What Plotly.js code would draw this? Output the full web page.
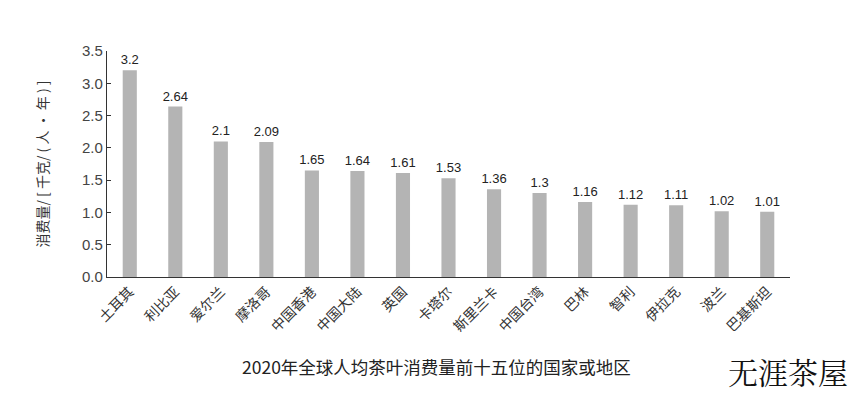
<!DOCTYPE html>
<html><head><meta charset="utf-8">
<script src="https://cdn.plot.ly/plotly-3.0.1.min.js"></script>
<style>body{margin:0;background:#fff}#c{width:858px;height:393px}</style>
</head><body><div id="c"></div>
<script>
const categories = ["土耳其","利比亚","爱尔兰","摩洛哥","中国香港","中国大陆","英国","卡塔尔","斯里兰卡","中国台湾","巴林","智利","伊拉克","波兰","巴基斯坦"];
const values = [3.2, 2.64, 2.1, 2.09, 1.65, 1.64, 1.61, 1.53, 1.36, 1.3, 1.16, 1.12, 1.11, 1.02, 1.01];
const valueLabels = ["3.2","2.64","2.1","2.09","1.65","1.64","1.61","1.53","1.36","1.3","1.16","1.12","1.11","1.02","1.01"];
const yTicks = [0,0.5,1,1.5,2,2.5,3,3.5];
const yTickText = ["0.0","0.5","1.0","1.5","2.0","2.5","3.0","3.5"];

const font = "Noto Sans CJK SC, sans-serif";
Plotly.newPlot("c", [{
  type: "bar", x: categories, y: values, text: valueLabels,
  textposition: "outside", cliponaxis: false, constraintext: "none",
  textfont: {family: "Liberation Sans, Arial, sans-serif", size: 13, color: "#222"},
  marker: {color: "#b4b4b4"}, hoverinfo: "none"
}], {
  width: 858, height: 393,
  margin: {l: 107, r: 68, t: 51, b: 116},
  paper_bgcolor: "#fff", plot_bgcolor: "#fff",
  bargap: 0.69, showlegend: false,
  font: {family: font, color: "#333"},
  xaxis: {tickangle: -45, showline: true, linecolor: "#333", linewidth: 1.2,
    ticks: "", tickfont: {family: font, size: 14, color: "#333"}, fixedrange: true},
  yaxis: {range: [0, 3.5], tickvals: yTicks, ticktext: yTickText, showgrid: false, zeroline: false,
    showline: true, linecolor: "#333", linewidth: 1.2, ticks: "inside", ticklen: 4, tickcolor: "#333",
    tickfont: {family: "Liberation Sans, Arial, sans-serif", size: 15, color: "#444"},
    title: {text: "消费量/ [ 千克/ ( 人 · 年 ) ]", font: {family: font, size: 14, color: "#333"}, standoff: 30}},
  annotations: [
    {text: "2020年全球人均茶叶消费量前十五位的国家或地区", xref: "paper", yref: "paper", x: 0.483, y: -0.398,
     xanchor: "center", yanchor: "middle", showarrow: false, font: {family: font, size: 17.5, color: "#222"}},
    {text: "无涯茶屋", xref: "paper", yref: "paper", x: 1.088, y: -0.416, xanchor: "right", yanchor: "middle",
     showarrow: false, font: {family: "Noto Serif CJK SC, serif", size: 30, color: "#111"}}
  ]
}, {displayModeBar: false, staticPlot: true});
</script></body></html>
